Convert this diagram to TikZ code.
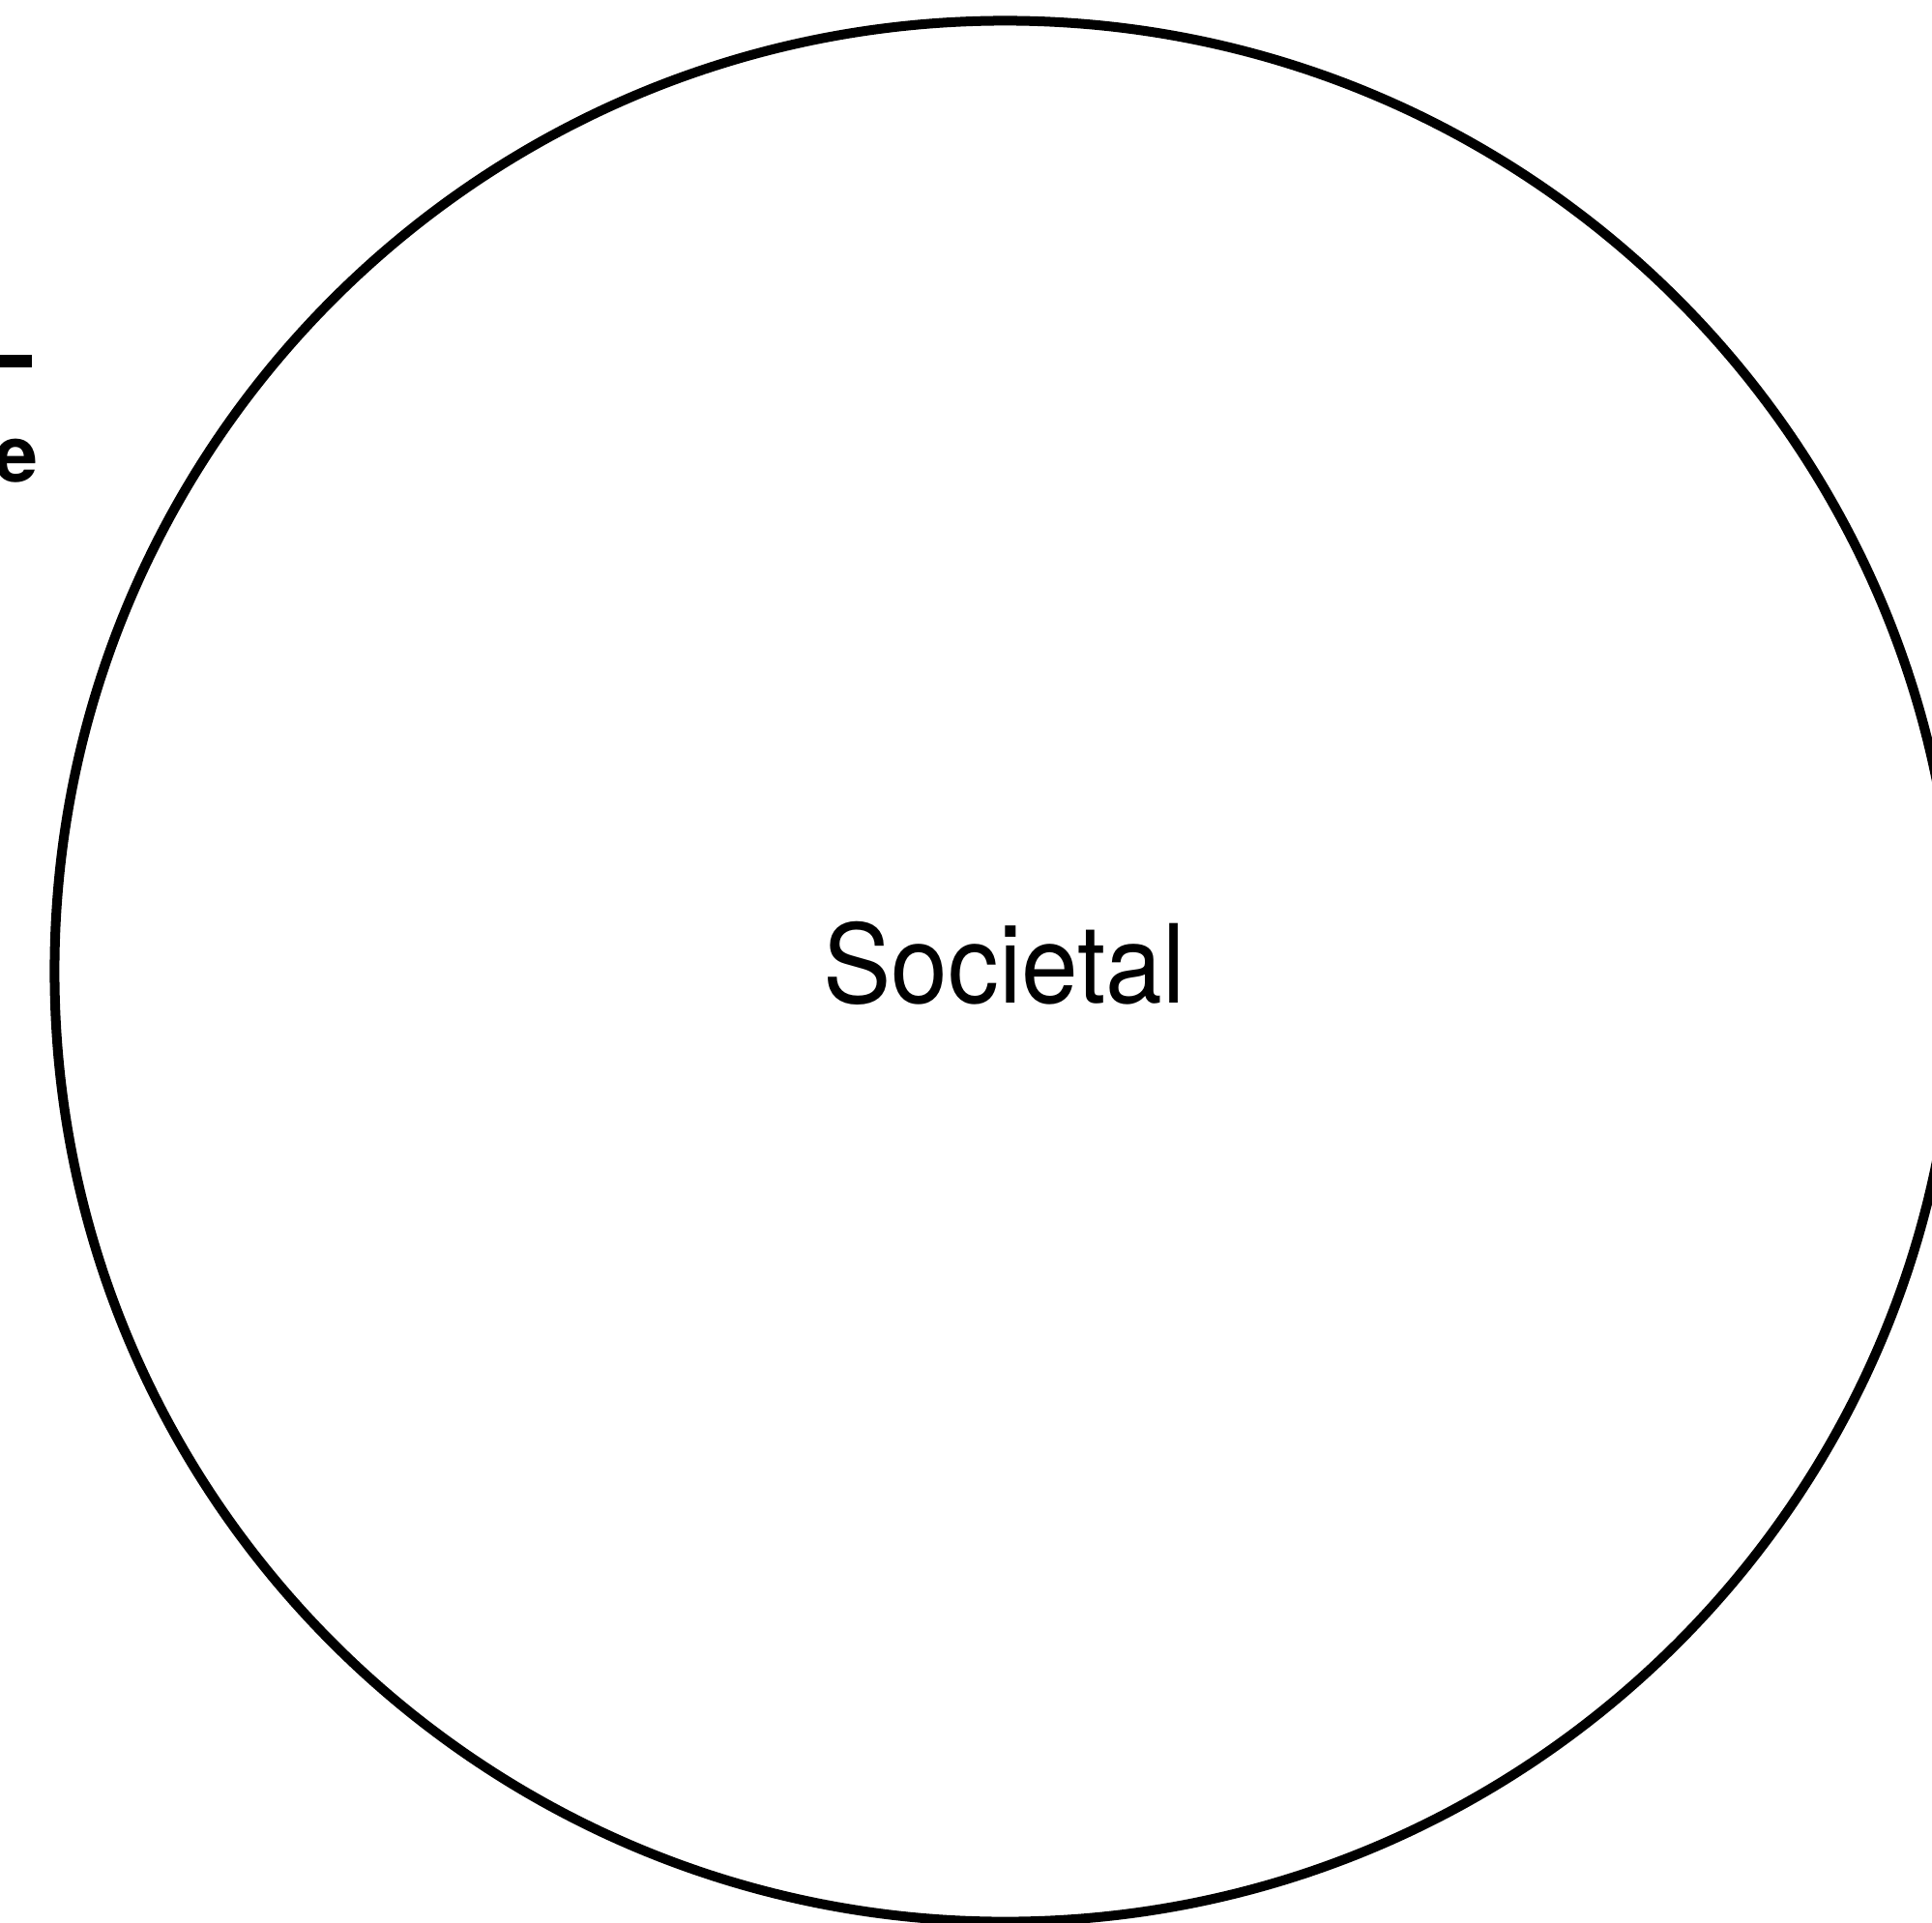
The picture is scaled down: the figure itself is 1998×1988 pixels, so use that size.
\documentclass[tikz,border=0pt]{standalone}
\usepackage{fontspec}
\setmainfont{TeX Gyre Heros}
\begin{document}
\begin{tikzpicture}[x=0.01cm,y=-0.01cm,
  ring/.style={draw=black,line width=0.1cm},
  label/.style={inner sep=0pt,font=\fontsize{30pt}{36pt}\selectfont},
  edgelabel/.style={inner sep=0pt,font=\fontsize{23pt}{28pt}\selectfont\bfseries}]
\useasboundingbox (0,0) rectangle (1998,1988);
\clip (0,0) rectangle (1998,1988);
\fill[white] (0,0) rectangle (1998,1988);
\node[ring,circle,minimum size=19.65cm,inner sep=0pt] (soc) at (1039.5,1004.5) {};
\node[label] (soctext) at (1038.5,996) {\scalebox{1}[1.07]{Societal}};
\fill[black] (0,367) rectangle (33,380);
\node[edgelabel,anchor=base east] (cute) at (40,498) {e};
\end{tikzpicture}
\end{document}
